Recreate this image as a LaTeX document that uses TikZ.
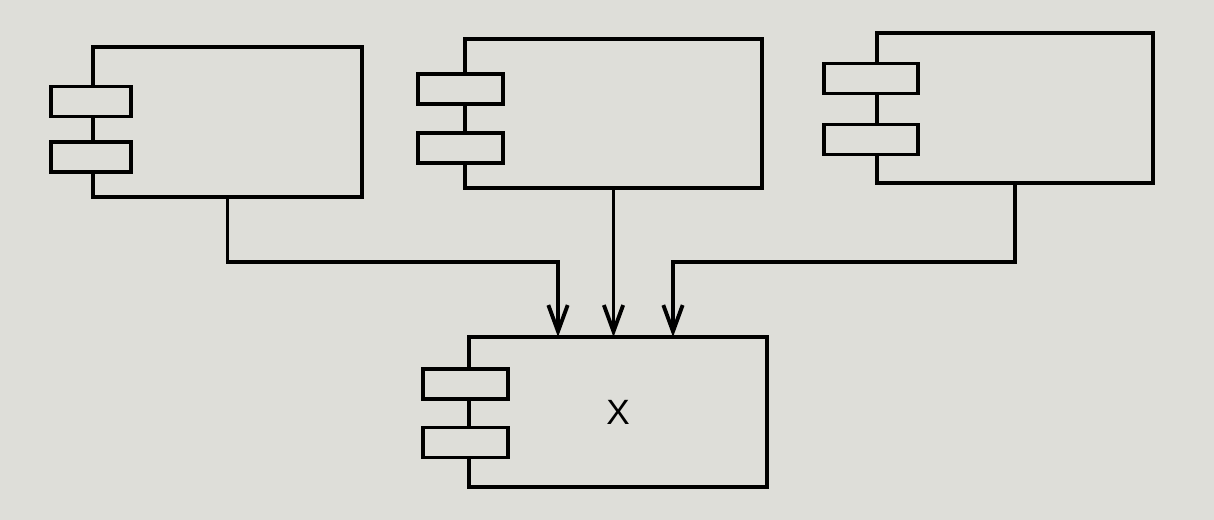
\documentclass[tikz,border=0pt]{standalone}
\usepackage{fontspec}
\setsansfont{Liberation Sans}
\usepackage{xcolor}
\usepackage{tikz}
\usetikzlibrary{positioning, arrows.meta}
\definecolor{paper}{RGB}{222,222,217}

\begin{document}
\begin{tikzpicture}[x=0.02cm,y=-0.02cm]
					\tikzstyle{comp}=[rectangle,draw=black,line width=2.2pt,inner sep=0pt,outer sep=0pt]
					\tikzstyle{port}=[rectangle,draw=black,fill=paper,line width=2.2pt,minimum width=1.7cm,minimum height=0.6cm]
					\tikzstyle{dep}=[line width=2.2pt,-{Straight Barb[length=15pt,width=11pt]}]
					\fill[paper] (0,0) rectangle (1214,520);
					\useasboundingbox (0,0) rectangle (1214,520);
					% components
					\node[comp,minimum width=5.38cm,minimum height=3cm](c1) at (227.5,122){};
					\node[comp,minimum width=5.94cm,minimum height=2.98cm](c2) at (613.5,113.5){};
					\node[comp,minimum width=5.52cm,minimum height=3cm](c3) at (1015,108){};
					\node[comp,minimum width=5.96cm,minimum height=3cm,font=\sffamily\fontsize{20}{24}\selectfont](x) at (618,412){X};
					% ports
					\node[port,minimum width=1.6cm](c1a) at (91,101.5){};
					\node[port,minimum width=1.6cm](c1b) at (91,157){};
					\node[port](c2a) at (460.5,89){};
					\node[port](c2b) at (460.5,148){};
					\node[port,minimum width=1.88cm](c3a) at (871,78.5){};
					\node[port,minimum width=1.88cm](c3b) at (871,139.5){};
					\node[port](xa) at (465.5,384){};
					\node[port](xb) at (465.5,442.5){};
					% dependencies
					\coordinate (xin1) at ([xshift=-1.2cm]x.north);
					\coordinate (xin3) at ([xshift=1.1cm]x.north);
					\draw[dep] (c1.south) -- ++(0,65) -| (xin1);
					\draw[dep] (c2.south) -- (c2.south |- x.north);
					\draw[dep] (c3.south) -- ++(0,79) -| (xin3);
				\end{tikzpicture}
\end{document}
